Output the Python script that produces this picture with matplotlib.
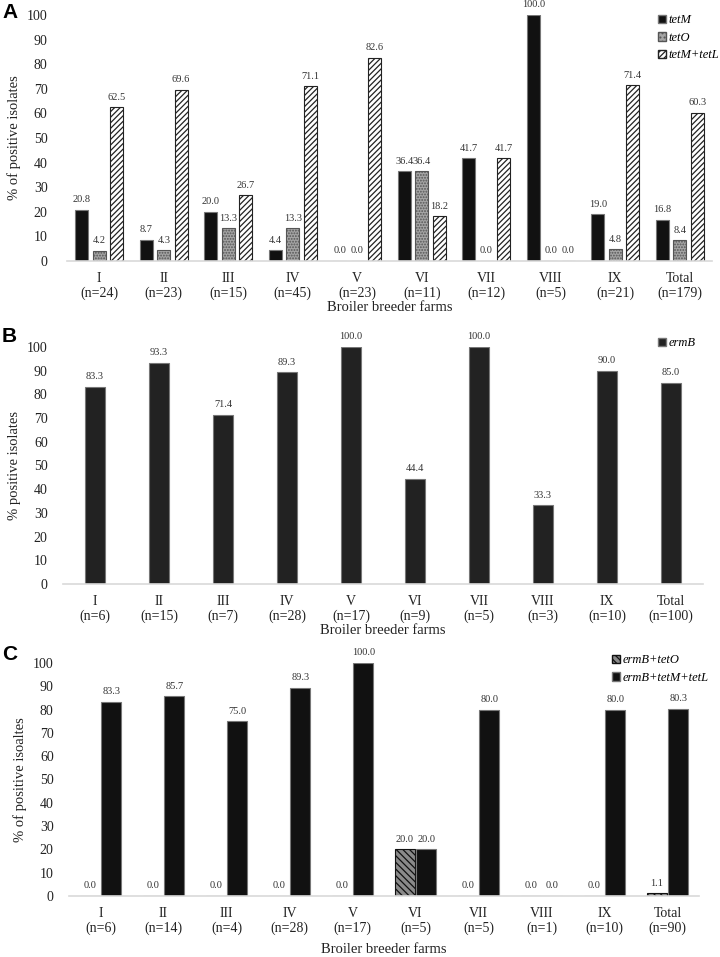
import numpy as np
import matplotlib
matplotlib.use("Agg")
from matplotlib import pyplot as plt
from matplotlib.patches import Patch

plt.rcParams['font.family'] = ['Liberation Serif', 'DejaVu Serif']
plt.rcParams['hatch.linewidth'] = 0.9

# Panel A data
farms_a = ["I\n(n=24)", "II\n(n=23)", "III\n(n=15)", "IV\n(n=45)", "V\n(n=23)",
           "VI\n(n=11)", "VII\n(n=12)", "VIII\n(n=5)", "IX\n(n=21)", "Total\n(n=179)"]
tetM = [20.8, 8.7, 20.0, 4.4, 0.0, 36.4, 41.7, 100.0, 19.0, 16.8]
tetO = [4.2, 4.3, 13.3, 13.3, 0.0, 36.4, 0.0, 0.0, 4.8, 8.4]
tetM_tetL = [62.5, 69.6, 26.7, 71.1, 82.6, 18.2, 41.7, 0.0, 71.4, 60.3]

# Panel B data
farms_b = ["I\n(n=6)", "II\n(n=15)", "III\n(n=7)", "IV\n(n=28)", "V\n(n=17)",
           "VI\n(n=9)", "VII\n(n=5)", "VIII\n(n=3)", "IX\n(n=10)", "Total\n(n=100)"]
ermB = [83.3, 93.3, 71.4, 89.3, 100.0, 44.4, 100.0, 33.3, 90.0, 85.0]

# Panel C data
farms_c = ["I\n(n=6)", "II\n(n=14)", "III\n(n=4)", "IV\n(n=28)", "V\n(n=17)",
           "VI\n(n=5)", "VII\n(n=5)", "VIII\n(n=1)", "IX\n(n=10)", "Total\n(n=90)"]
ermB_tetO = [0.0, 0.0, 0.0, 0.0, 0.0, 20.0, 0.0, 0.0, 0.0, 1.1]
ermB_tetM_tetL = [83.3, 85.7, 75.0, 89.3, 100.0, 20.0, 80.0, 0.0, 80.0, 80.3]

W, H = 720, 957
fig = plt.figure(figsize=(7.2, 9.57), dpi=100)


def make_axes(left, top, right, bottom):
    # pixel box -> figure fraction
    return fig.add_axes([left / W, 1 - bottom / H, (right - left) / W, (bottom - top) / H])


def style_axes(ax, labels, ylabel, ypad, xlabelpad):
    ax.set_ylim(0, 100)
    ax.set_xlim(-0.5, len(labels) - 0.5)
    ax.set_yticks(range(0, 101, 10))
    ax.set_xticks(range(len(labels)))
    ax.set_xticklabels(labels, fontsize=10, linespacing=1.1, color='#222222')
    ax.tick_params(axis='y', length=0, pad=ypad, labelsize=10, labelcolor='#222222')
    ax.tick_params(axis='x', length=0, pad=8)
    for s in ['top', 'right', 'left']:
        ax.spines[s].set_visible(False)
    ax.spines['bottom'].set_color('#d9d9d9')
    ax.spines['bottom'].set_linewidth(1.2)
    ax.set_ylabel(ylabel, fontsize=10.5, color='#222222')
    ax.set_xlabel("Broiler breeder farms", fontsize=10.5, labelpad=xlabelpad, color='#222222')


def value_labels(ax, xs, vals):
    for x, v in zip(xs, vals):
        ax.annotate(f"{v:.1f}", (x, v), xytext=(0, 4), textcoords='offset points',
                    ha='center', va='bottom', fontsize=7.5, color='#333333')


legend_kw = dict(loc='upper left', frameon=False, prop={'style': 'italic', 'size': 9},
                 handlelength=0.65, handleheight=0.65, handletextpad=0.2,
                 labelspacing=0.45, borderpad=0)

# ---- A
axA = make_axes(67, 15, 712, 261)
x = np.arange(len(farms_a))
off, bw = 0.27, 0.2
axA.bar(x - off, tetM, bw, color='#111111', edgecolor='#777777', linewidth=0.8)
axA.bar(x, tetO, bw, color='#a5a5a5', edgecolor='#555555', hatch='......', linewidth=0.8)
axA.bar(x + off, tetM_tetL, bw, color='white', edgecolor='#222222', hatch='//////', linewidth=0.8)
value_labels(axA, x - off, tetM)
value_labels(axA, x, tetO)
value_labels(axA, x + off, tetM_tetL)
style_axes(axA, farms_a, "% of positive isolates", 14, 1)
handlesA = [Patch(facecolor='#111111', edgecolor='#777777', label='tetM'),
            Patch(facecolor='#a5a5a5', edgecolor='#555555', hatch='....', label='tetO'),
            Patch(facecolor='white', edgecolor='#222222', hatch='//////', label='tetM+tetL')]
fig.legend(handles=handlesA, bbox_to_anchor=(652 / W, 1 - 8 / H), **legend_kw)

# ---- B
axB = make_axes(63, 347, 703, 584)
x = np.arange(len(farms_b))
axB.bar(x, ermB, 0.31, color='#222222', edgecolor='#777777', linewidth=0.8)
value_labels(axB, x, ermB)
style_axes(axB, farms_b, "% positive isolates", 11, 1)
fig.legend(handles=[Patch(facecolor='#222222', edgecolor='#777777', label='ermB')],
           bbox_to_anchor=(652 / W, 1 - 331 / H), **legend_kw)

# ---- C
axC = make_axes(69, 663, 699, 896)
x = np.arange(len(farms_c))
off, bw = 0.17, 0.32
axC.bar(x - off, ermB_tetO, bw, color='#8a8a8a', edgecolor='#111111', hatch='\\\\\\\\\\', linewidth=0.8)
axC.bar(x + off, ermB_tetM_tetL, bw, color='#111111', edgecolor='#777777', linewidth=0.8)
value_labels(axC, x - off, ermB_tetO)
value_labels(axC, x + off, ermB_tetM_tetL)
style_axes(axC, farms_c, "% of positive isoaltes", 11, 6)
handlesC = [Patch(facecolor='#8a8a8a', edgecolor='#111111', hatch='\\\\\\\\\\', label='ermB+tetO'),
            Patch(facecolor='#111111', edgecolor='#777777', label='ermB+tetM+tetL')]
fig.legend(handles=handlesC, bbox_to_anchor=(606 / W, 1 - 648 / H), **legend_kw)

# panel letters
for letter, ypix in [("A", 13), ("B", 336), ("C", 655)]:
    fig.text(2 / W, 1 - ypix / H, letter, family='Liberation Sans', weight='bold',
             fontsize=15, va='center', ha='left')

fig.savefig("out.png", dpi=100)
